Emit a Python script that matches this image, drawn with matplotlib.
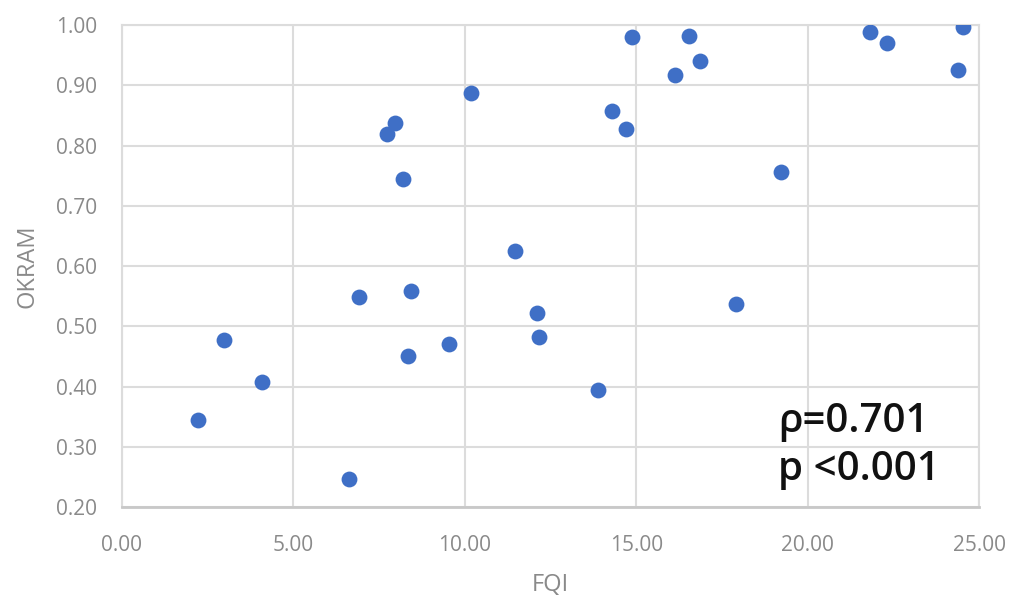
import matplotlib
matplotlib.use("Agg")
import matplotlib.pyplot as plt

# FQI vs OKRAM
fqi = [2.22, 2.98, 4.09, 6.63, 6.90, 8.35, 8.44, 9.53, 7.73, 7.95,
       8.20, 10.18, 11.45, 12.09, 12.15, 13.87, 14.28, 14.69, 14.86, 16.12,
       16.53, 16.85, 17.90, 19.21, 21.81, 22.31, 24.38, 24.53]
okram = [0.345, 0.477, 0.407, 0.247, 0.548, 0.450, 0.558, 0.470, 0.820, 0.837,
         0.745, 0.887, 0.625, 0.523, 0.483, 0.395, 0.857, 0.827, 0.980, 0.917,
         0.982, 0.940, 0.537, 0.757, 0.988, 0.970, 0.925, 0.997]

x_ticks = [0, 5, 10, 15, 20, 25]
y_ticks = [0.2, 0.3, 0.4, 0.5, 0.6, 0.7, 0.8, 0.9, 1.0]

plt.rcParams['font.family'] = ['Open Sans', 'DejaVu Sans']

fig = plt.figure(figsize=(10.16, 5.98), dpi=100)
ax = fig.add_axes([0.120, 0.152, 0.844, 0.806])

ax.scatter(fqi, okram, s=130, color='#3f6fc6', zorder=3, linewidths=0)

ax.set_xlim(0, 25)
ax.set_ylim(0.2, 1.0)
ax.set_xticks(x_ticks)
ax.set_yticks(y_ticks)
ax.set_xticklabels([f"{v:.2f}" for v in x_ticks])
ax.set_yticklabels([f"{v:.2f}" for v in y_ticks])
ax.tick_params(axis='both', length=0, labelsize=15, labelcolor='#8a8a8a')
ax.tick_params(axis='x', pad=20)
ax.tick_params(axis='y', pad=18)

ax.grid(True, color='#dcdcdc', linewidth=1.5)
ax.set_axisbelow(True)
for side in ['left', 'top', 'right']:
    ax.spines[side].set_color('#dcdcdc')
    ax.spines[side].set_linewidth(1.5)
ax.spines['bottom'].set_color('#c8c8c8')
ax.spines['bottom'].set_linewidth(2)

ax.set_xlabel('FQI', fontsize=17, color='#8a8a8a', labelpad=12)
ax.set_ylabel('OKRAM', fontsize=17, color='#8a8a8a', labelpad=12)

ax.text(0.765, 0.156, 'ρ=0.701', transform=ax.transAxes, fontsize=29,
        fontweight='semibold', color='#111111', va='baseline')
ax.text(0.765, 0.056, 'p <0.001', transform=ax.transAxes, fontsize=29,
        fontweight='semibold', color='#111111', va='baseline')

fig.savefig('out.png', dpi=100)
